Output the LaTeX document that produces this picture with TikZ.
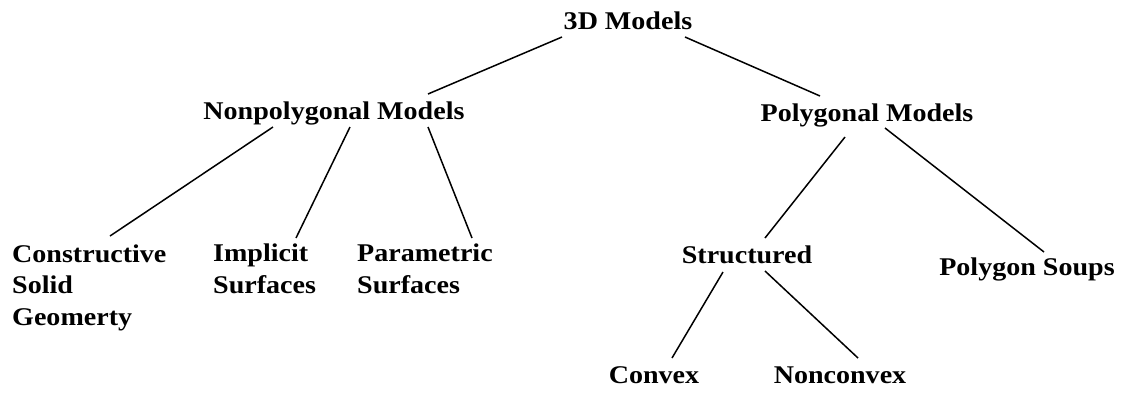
\documentclass[tikz,border=0pt]{standalone}
\usepackage{fontspec}
\usepackage{tikz}
\usetikzlibrary{positioning}
\newfontfamily\treefont[FakeStretch=1.1]{Liberation Serif}

\begin{document}
\begin{tikzpicture}[x=1pt,y=-1pt,font=\treefont\bfseries\fontsize{25.5}{31.5}\selectfont]
\tikzstyle{model}=[inner sep=0pt, anchor=base, align=center]
\tikzstyle{leaf}=[inner sep=0pt, anchor=base west, align=left]
\tikzstyle{branch}=[line width=1.5pt, black]
\useasboundingbox (0,0) rectangle (1127,392);

\node[model] (models) at (628,29) {3D Models};
\node[model] (nonpoly) at (334,119) {Nonpolygonal Models};
\node[model] (poly) at (867,121) {Polygonal Models};
% multi-line leaves sit on their last baseline
\node[leaf] (csg) at (12,325) {Constructive\\Solid\\Geomerty};
\node[leaf] (implicit) at (213,293) {Implicit\\Surfaces};
\node[leaf] (param) at (357,293) {Parametric\\Surfaces};
\node[model] (struct) at (747,263) {Structured};
\node[model] (soups) at (1027,275) {Polygon Soups};
\node[model] (convex) at (654,383) {Convex};
\node[model] (nonconvex) at (840,383) {Nonconvex};

\draw[branch] ([shift={(-66,8)}]models.base) -- ([shift={(94,-25)}]nonpoly.base);
\draw[branch] ([shift={(57,8)}]models.base) -- ([shift={(-47,-25)}]poly.base);
\draw[branch] ([shift={(-61,8)}]nonpoly.base) -- ([shift={(98,-89)}]csg.base west);
\draw[branch] ([shift={(16,8)}]nonpoly.base) -- ([shift={(83,-55)}]implicit.base west);
\draw[branch] ([shift={(94,8)}]nonpoly.base) -- ([shift={(115,-55)}]param.base west);
\draw[branch] ([shift={(-22,16)}]poly.base) -- ([shift={(18,-25)}]struct.base);
\draw[branch] ([shift={(18,7)}]poly.base) -- ([shift={(17,-23)}]soups.base);
\draw[branch] ([shift={(-24,9)}]struct.base) -- ([shift={(18,-25)}]convex.base);
\draw[branch] ([shift={(18,8)}]struct.base) -- ([shift={(18,-25)}]nonconvex.base);
\end{tikzpicture}
\end{document}
